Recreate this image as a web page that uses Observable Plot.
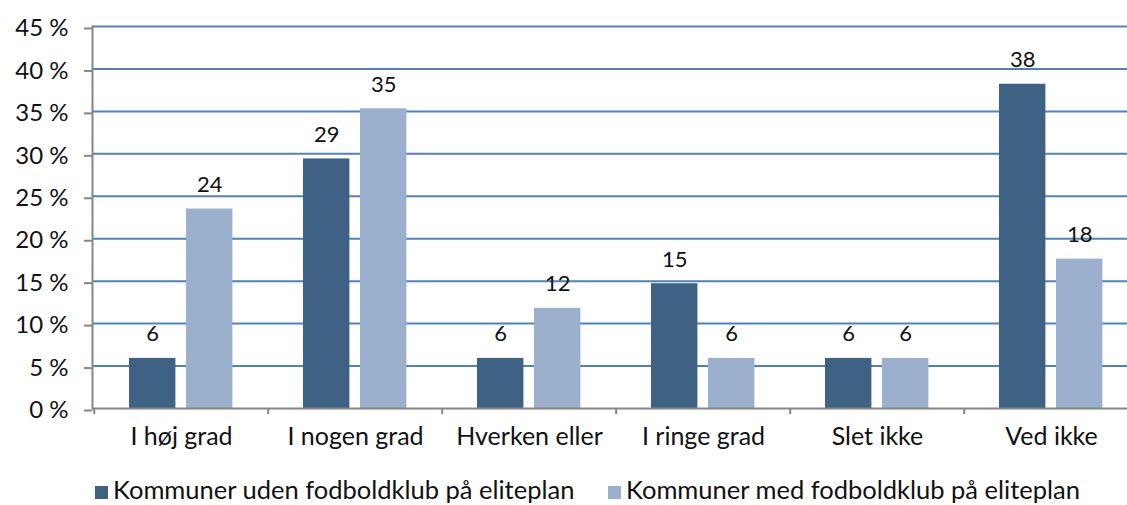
<!DOCTYPE html>
<html>
<head>
<meta charset="utf-8">
<script src="https://cdn.jsdelivr.net/npm/d3@7"></script>
<script src="https://cdn.jsdelivr.net/npm/@observablehq/plot@0.6"></script>
<style>
  html, body { margin: 0; padding: 0; background: #fff; overflow: hidden; width: 1127px; }
  #chart { position: relative; width: 1127px; height: 505px; font-family: Lato, "Open Sans", sans-serif; }
  #legend { position: absolute; left: 0; top: 474px; width: 1127px; height: 30px; font-size: 25.5px; color: #111; white-space: nowrap; }
  .item { position: absolute; top: 0; display: flex; align-items: center; line-height: 30px; }
  .sw { width: 13px; height: 13px; margin-right: 5px; display: inline-block; position: relative; top: 3px; }
</style>
</head>
<body>
<div id="chart"><div id="plot"></div><div id="legend"></div></div>
<script>
const categories = ["I høj grad", "I nogen grad", "Hverken eller", "I ringe grad", "Slet ikke", "Ved ikke"];
const seriesNames = ["Kommuner uden fodboldklub på eliteplan", "Kommuner med fodboldklub på eliteplan"];
const withoutClub = [5.9, 29.4, 5.9, 14.7, 5.9, 38.2];
const withClub = [23.5, 35.3, 11.8, 5.9, 5.9, 17.6];
const yTicks = [0, 5, 10, 15, 20, 25, 30, 35, 40, 45];
const colors = ["#3F6284", "#9BB0CD"];

const data = [];
categories.forEach((c, i) => {
  data.push({cat: c, series: seriesNames[0], value: withoutClub[i], s: 0});
  data.push({cat: c, series: seriesNames[1], value: withClub[i], s: 1});
});

const W = 1127, H = 460;
const x0 = 92, x1 = 1139.6;
const bw = (x1 - x0) / categories.length;
const barW = 47, outer = 35, gap = 10;

const plot = Plot.plot({
  width: W,
  height: H,
  marginLeft: x0,
  marginRight: 0,
  marginTop: 26,
  marginBottom: 52,
  style: {fontFamily: "Lato, 'Open Sans', sans-serif", fontSize: "20px", color: "#111", background: "#fff", overflow: "hidden"},
  x: {domain: categories, range: [x0, x1], padding: 0, label: null},
  y: {domain: [0, 45], label: null},
  marks: [
    Plot.ruleY(yTicks.filter(d => d > 0), {stroke: "#4F81BD", strokeWidth: 2}),
    Plot.barY(data.filter(d => d.s === 0), {x: "cat", y: "value", fill: colors[0], insetLeft: outer, insetRight: bw - outer - barW}),
    Plot.barY(data.filter(d => d.s === 1), {x: "cat", y: "value", fill: colors[1], insetLeft: outer + barW + gap, insetRight: bw - outer - 2 * barW - gap}),
    Plot.text(data.filter(d => d.s === 0), {x: "cat", y: "value", text: d => Math.round(d.value), dx: outer + barW / 2 - bw / 2, dy: -24, fontSize: 22, fill: "#111"}),
    Plot.text(data.filter(d => d.s === 1), {x: "cat", y: "value", text: d => Math.round(d.value), dx: outer + barW + gap + barW / 2 - bw / 2, dy: -24, fontSize: 22, fill: "#111"}),
    Plot.ruleY([0], {stroke: "#868686", strokeWidth: 2}),
    Plot.ruleX(categories, {x: d => d, y1: 0, y2: 0, dx: -bw / 2, insetBottom: -6, stroke: "#868686", strokeWidth: 2}),
    Plot.frame({anchor: "left", stroke: "#868686", strokeWidth: 2}),
    Plot.axisY({ticks: yTicks, tickSize: 8, tickPadding: 16, tickFormat: d => d + " %", stroke: "#868686", strokeWidth: 2, fontSize: 24, fill: "#111", dy: 2}),
    Plot.axisX({tickSize: 0, tickPadding: 19, fontSize: 25, fill: "#111"})
  ]
});
document.getElementById("plot").appendChild(plot);

const legend = document.getElementById("legend");
const lefts = [95, 608];
seriesNames.forEach((name, i) => {
  const it = document.createElement("div");
  it.className = "item";
  it.style.left = lefts[i] + "px";
  const sw = document.createElement("span");
  sw.className = "sw";
  sw.style.background = colors[i];
  const t = document.createElement("span");
  t.textContent = name;
  it.appendChild(sw); it.appendChild(t);
  legend.appendChild(it);
});
</script>
</body>
</html>
